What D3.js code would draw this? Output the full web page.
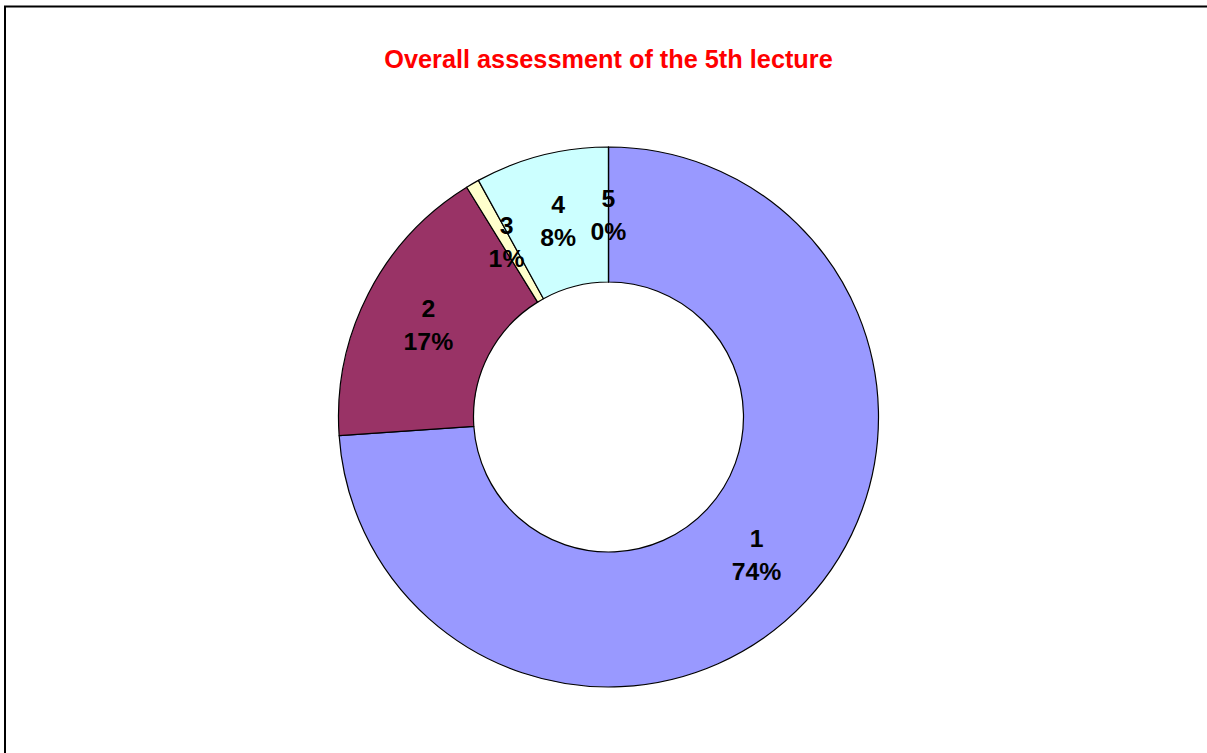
<!DOCTYPE html>
<html>
<head>
<meta charset="utf-8">
<script src="https://cdn.jsdelivr.net/npm/d3@7"></script>
<style>
  html, body { margin: 0; padding: 0; background: #ffffff; }
  svg { display: block; }
</style>
</head>
<body>
<div id="chart"></div>
<script>
const categories = ['1', '2', '3', '4', '5'];
const shares = [73.9, 17.3, 0.8, 8.0, 0];
const sliceColors = ['#9999ff', '#993366', '#ffffcc', '#ccffff', '#660066'];
const chartTitle = 'Overall assessment of the 5th lecture';

const width = 1207;
const height = 753;
const cx = 608.5, cy = 417;
const outerR = 270, innerR = 135;

const data = categories.map((c, i) => ({ label: c, value: shares[i], color: sliceColors[i] }));
const total = d3.sum(shares);

const svg = d3.select('#chart').append('svg')
  .attr('width', width)
  .attr('height', height);

// chart area frame (runs off the right and bottom of the picture)
svg.append('rect')
  .attr('x', 5)
  .attr('y', 6.5)
  .attr('width', 1400)
  .attr('height', 1000)
  .attr('fill', '#ffffff')
  .attr('stroke', '#000000')
  .attr('stroke-width', 2);

svg.append('text')
  .attr('x', cx)
  .attr('y', 68)
  .attr('text-anchor', 'middle')
  .attr('font-family', 'Liberation Sans, Arial, sans-serif')
  .attr('font-weight', 'bold')
  .attr('font-size', 25.3)
  .attr('fill', '#ff0000')
  .text(chartTitle);

const pie = d3.pie()
  .sort(null)
  .value(d => d.value)
  .startAngle(0)
  .endAngle(2 * Math.PI);

const arc = d3.arc().innerRadius(innerR).outerRadius(outerR);

const g = svg.append('g').attr('transform', 'translate(' + cx + ',' + cy + ')');
const arcs = pie(data);

g.selectAll('path.slice')
  .data(arcs)
  .enter()
  .append('path')
  .attr('class', 'slice')
  .attr('d', arc)
  .attr('fill', d => d.data.color)
  .attr('stroke', '#000000')
  .attr('stroke-width', 1.2)
  .attr('stroke-linejoin', 'round');

const labels = g.selectAll('text.lbl')
  .data(arcs)
  .enter()
  .append('text')
  .attr('class', 'lbl')
  .attr('transform', d => 'translate(' + arc.centroid(d) + ')')
  .attr('text-anchor', 'middle')
  .attr('font-family', 'Liberation Sans, Arial, sans-serif')
  .attr('font-weight', 'bold')
  .attr('font-size', 24.8)
  .attr('fill', '#000000');

labels.append('tspan')
  .attr('x', 0)
  .attr('y', -8)
  .text(d => d.data.label);

labels.append('tspan')
  .attr('x', 0)
  .attr('y', 25)
  .text(d => Math.round(d.data.value / total * 100) + '%');
</script>
</body>
</html>
